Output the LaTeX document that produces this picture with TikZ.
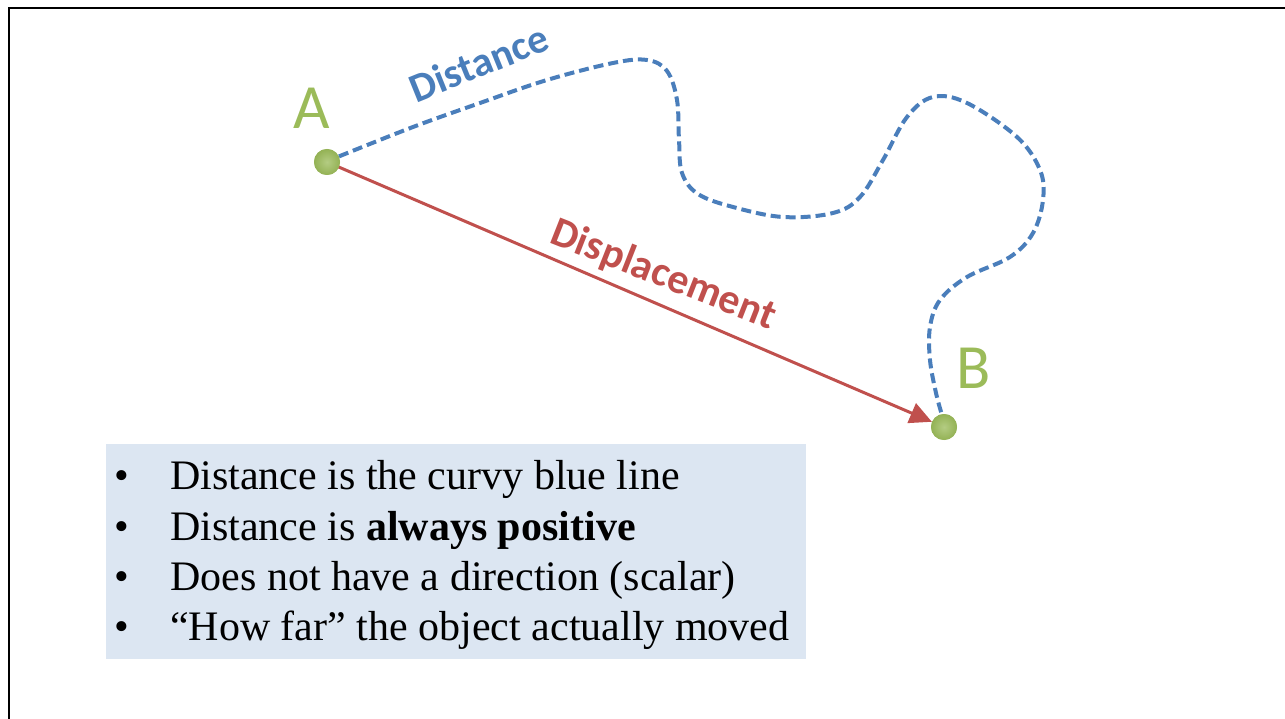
\documentclass[tikz,border=0pt]{standalone}
\usepackage{fontspec}
\setmainfont{Liberation Serif}
\newfontfamily\calib{Carlito}
\usetikzlibrary{arrows.meta}
\definecolor{ptgreen}{HTML}{9BBB59}
\definecolor{ptblue}{HTML}{4A7EBB}
\definecolor{ptred}{HTML}{C0504D}
\definecolor{ptbox}{HTML}{DCE6F2}
\tikzset{
  dot/.style={circle, minimum size=26pt, inner sep=0pt, shading=radial,
    inner color=ptgreen!75!white, outer color=ptgreen!95!black},
  ptlabel/.style={text=ptgreen, font=\calib\fontsize{63}{63}\selectfont, inner sep=0pt},
  disp/.style={draw=ptred, line width=3pt, -{Triangle[length=22pt,width=21pt]}},
  dist/.style={draw=ptblue, line width=4pt, dash pattern=on 10pt off 5pt},
  boxstyle/.style={fill=ptbox, draw=none, anchor=north west, inner sep=0pt},
  bul/.style={anchor=base west, inner sep=0pt, font=\fontsize{42}{50}\selectfont},
  frameline/.style={draw=black, line width=2pt}
}
\begin{document}
\begin{tikzpicture}[x=1pt,y=-1pt]
\useasboundingbox (0,0) rectangle (1285,719);
% frame
\coordinate (f1) at (9,719);
\coordinate (f2) at (9,8);
\coordinate (f3) at (1285,8);
\draw[frameline] (f1) -- (f2) -- (f3);
% dots
\node[dot] (A) at (327,162) {};
\node[dot] (B) at (944,427) {};
% displacement arrow
\draw[disp] (A.center) -- (B);
% distance curve
\draw[dist] plot[smooth, tension=0.6] coordinates {(A.25) (413,127) (480,103) (547,80) (613,63) (647,60) (667,71) (677,100) (679,140) (682,173) (698,194) (733,207) (783,217) (833,213) (860,197) (883,160) (907,117) (933,97) (967,103) (1017,137) (1040,170) (1043,200) (1033,233) (1010,257) (967,277) (940,300) (930,327) (930,360) (936,393) (B.100)};
% redraw dots on top
\node[dot] (A2) at (A) {};
\node[dot] (B2) at (B) {};
% labels
\node[ptlabel] (la) at (312,108) {A};
\node[ptlabel] (lb) at (974,368) {B};
\node[text=ptblue, font=\calib\bfseries\fontsize{41}{41}\selectfont, rotate=22, anchor=base, inner sep=0pt] (ldist) at (484,76) {Distance};
\node[text=ptred, font=\calib\bfseries\fontsize{42}{42}\selectfont, rotate=-21.5, anchor=base, inner sep=0pt] (ldisp) at (659,286) {Displacement};
% text box
\node[boxstyle, minimum width=700pt, minimum height=215pt] (box) at (106,444) {};
\node[bul] (b1) at (114,489) {•};
\node[bul] (b2) at (114,540) {•};
\node[bul] (b3) at (114,590) {•};
\node[bul] (b4) at (114,640) {•};
\node[bul] (t1) at (170,489) {Distance is the curvy blue line};
\node[bul] (t2) at (170,540) {Distance is \textbf{always positive}};
\node[bul] (t3) at (170,590) {Does not have a direction (scalar)};
\node[bul] (t4) at (170,640) {“How far” the object actually moved};
\end{tikzpicture}
\end{document}
